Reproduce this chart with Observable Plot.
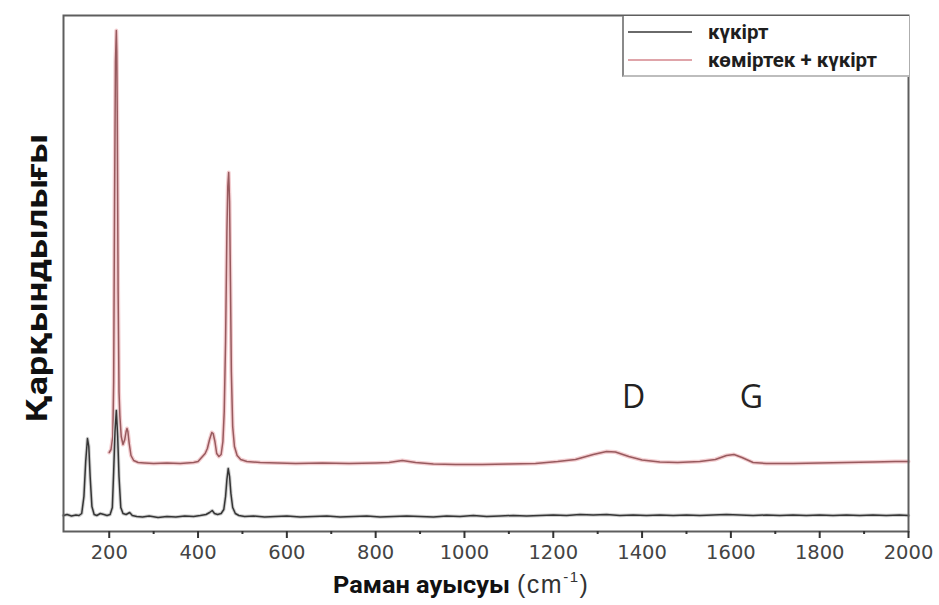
<!DOCTYPE html>
<html><head><meta charset="utf-8">
<script src="https://cdn.jsdelivr.net/npm/d3@7"></script>
<script src="https://cdn.jsdelivr.net/npm/@observablehq/plot@0.6"></script>
<style>
body{margin:0;background:#fff}
#wrap{position:relative;width:939px;height:605px}
#legend{position:absolute;left:622px;top:16px;width:285px;height:59px;background:#fff;border-left:2px solid #8a8a8a;border-bottom:2px solid #bdbdbd;font-family:Roboto,"Liberation Sans",sans-serif;font-weight:700;font-size:20.5px;color:#1e1e1e}
.row{position:absolute;left:0;height:24px;display:flex;align-items:center}
.sw{display:inline-block;width:64px;height:0;margin-left:4px;margin-right:16px}
</style>
</head><body><div id="wrap"></div>
<script>
// Series names
const seriesNames = ["күкірт", "көміртек + күкірт"];

// Sulfur (күкірт) spectrum: Raman shift (cm-1) and intensity (a.u.)
const sulfurShift = [97,105,115,125,132,138,143,147,151,154,157,161,166,172,180,188,195,202,207,210,213,216,219,222,226,231,238,246,252,262,275,290,310,330,350,370,390,405,418,426,432,437,444,452,458,462,465,468,471,474,478,484,492,505,525,550,575,600,630,660,690,720,750,780,810,840,870,900,930,960,990,1020,1050,1080,1110,1140,1170,1200,1230,1260,1290,1320,1350,1380,1410,1440,1470,1500,1530,1560,1590,1620,1650,1680,1710,1740,1770,1800,1830,1860,1890,1920,1950,1980,2000];
const sulfurIntensity = [16,17,15.5,16.5,16,18,35,70,93,85,55,25,17,16,18,17,16,17,24,60,100,121,95,55,24,18,17,19,16,15,14.5,15.5,14,15,14.5,15.5,15,16,17,19,21,18,17,18,22,35,52,63,55,38,24,18,16,15,15.5,14.5,15,15.5,14.5,15,15.5,14.5,15,15.5,14.5,15,15.5,15,14.5,15.5,15,16,15,15.5,16,15.5,16,16.5,16,17,16.5,17,16,16.5,16,16.5,16,16.5,16,16.5,17,16.5,16,16.5,16,16.5,16,16.5,16,16.5,16,16.5,16,16.5,16];

// Carbon + sulfur (көміртек + күкірт) spectrum
const carbonShift = [200,204,208,210,212,214,216,217,218,220,222,224,227,231,235,238,240,242,245,249,255,265,280,300,330,360,390,400,408,412,416,421,426,431,434,438,442,447,452,456,459,462,465,467,469,471,473,475,478,482,488,496,510,540,580,620,680,740,800,830,860,890,930,980,1040,1100,1160,1210,1250,1290,1320,1340,1370,1400,1440,1480,1530,1565,1590,1607,1625,1650,1680,1740,1800,1860,1920,1970,2000];
const carbonIntensity = [79,82,95,150,330,470,501,480,420,240,140,115,95,87,92,100,103,100,88,76,71,69,68.5,68,68.5,68,69,70,74,76,78,83,92,99,98,90,78,75,77,90,120,190,300,345,359,330,250,160,105,85,76,72,70,69,68.5,68,68.5,68,68.5,69,71,69,67.5,67,67,67.5,68,70,72,77,80,79.5,75,71.5,69.5,69,70,72,76,77,74,69,68,68,68.5,69,69.5,70,70];

// Axis ticks
const xMajorTicks = [200,400,600,800,1000,1200,1400,1600,1800,2000];
const xMinorTicks = [300,500,700,900,1100,1300,1500,1700,1900];

// Band annotations
const bandLabels = ["D","G"];
const bandX = [1381,1646];
const bandY = [134,134];

const yTitle = "Қарқындылығы";
const xTitleBold = "Раман ауысуы";
const xTitleUnit = "(cm";
const xTitleSup = "-1";

const sulfur = sulfurShift.map((x,i)=>({x, y: sulfurIntensity[i]}));
const carbon = carbonShift.map((x,i)=>({x, y: carbonIntensity[i]}));
const bands = bandLabels.map((t,i)=>({t, x: bandX[i], y: bandY[i]}));

const plot = Plot.plot({
  width: 939, height: 605,
  marginLeft: 63, marginRight: 31, marginTop: 15, marginBottom: 74,
  style: {fontFamily: "DejaVu Sans, sans-serif", fontSize: "19.5px", color: "#444", background: "#fff"},
  x: {domain: [97, 2000], label: null},
  y: {domain: [0, 516], axis: null},
  marks: [
    Plot.line(carbon, {x: "x", y: "y", stroke: "#f3cdd0", strokeWidth: 4}),
    Plot.line(carbon, {x: "x", y: "y", stroke: "#985a5e", strokeWidth: 1.5}),
    Plot.line(sulfur, {x: "x", y: "y", stroke: "#cfcfcf", strokeWidth: 3.5}),
    Plot.line(sulfur, {x: "x", y: "y", stroke: "#353535", strokeWidth: 1.5}),
    Plot.frame({stroke: "#5e5e5e", strokeWidth: 2}),
    Plot.axisX({ticks: xMinorTicks, tickSize: 3, tickFormat: () => "", stroke: "#333", strokeWidth: 2, label: null}),
    Plot.axisX({ticks: xMajorTicks, tickSize: 7, tickPadding: 7, tickFormat: d => String(d), stroke: "#333", strokeWidth: 2, fill: "#444", label: null}),
    Plot.text(bands, {x: "x", y: "y", text: "t", fontSize: 32, fontFamily: "Open Sans, sans-serif", fill: "#222"})
  ]
});
document.getElementById("wrap").appendChild(plot);

const svg = d3.select(plot);
svg.append("text")
  .attr("transform", "translate(36,278) rotate(-90)")
  .attr("text-anchor", "middle")
  .attr("dominant-baseline", "central")
  .attr("font-family", "Roboto, sans-serif")
  .attr("font-weight", 700)
  .attr("font-size", 30)
  .attr("fill", "#111")
  .attr("textLength", 288)
  .attr("lengthAdjust", "spacingAndGlyphs")
  .text(yTitle);
svg.append("text")
  .attr("x", 333).attr("y", 593)
  .attr("text-anchor", "start")
  .attr("font-family", "Roboto, sans-serif")
  .attr("font-weight", 700)
  .attr("font-size", 23)
  .attr("fill", "#111")
  .attr("textLength", 177)
  .attr("lengthAdjust", "spacingAndGlyphs")
  .text(xTitleBold);
const unit = svg.append("text")
  .attr("x", 517).attr("y", 593)
  .attr("text-anchor", "start")
  .attr("font-family", "Liberation Sans, sans-serif")
  .attr("font-size", 25)
  .attr("letter-spacing", 1.5)
  .attr("fill", "#333");
unit.append("tspan").text(xTitleUnit);
unit.append("tspan").attr("dy", -11).attr("font-size", 15).text(xTitleSup);
unit.append("tspan").attr("dy", 11).text(")");

// Legend
const lg = document.createElement("div");
lg.id = "legend";
const colors = ["#6a6a6a", "#dfa4a9"];
seriesNames.forEach((n,i)=>{
  const r = document.createElement("div");
  r.className = "row";
  r.style.top = (i===0 ? 4 : 32) + "px";
  const s = document.createElement("span");
  s.className = "sw";
  s.style.borderTop = "2px solid " + colors[i];
  const t = document.createElement("span");
  t.textContent = n;
  r.appendChild(s); r.appendChild(t);
  lg.appendChild(r);
});
document.getElementById("wrap").appendChild(lg);
</script>
</body></html>
